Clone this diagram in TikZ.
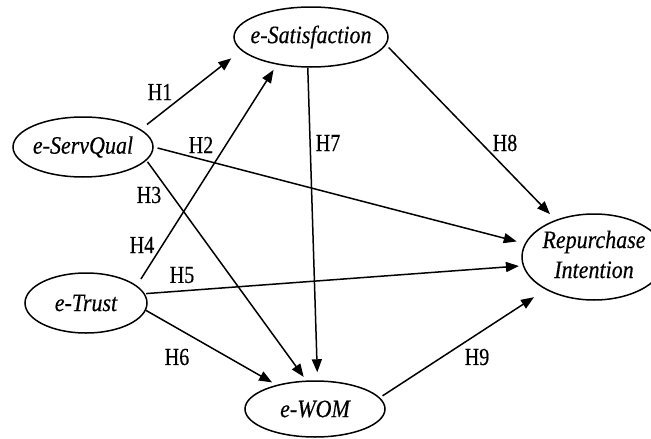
\documentclass[tikz,border=0pt]{standalone}
\usepackage{fontspec}
\setmainfont{Liberation Serif}
\newfontfamily\varfont[FakeStretch=0.88,FakeBold=0.4]{Liberation Serif}
\newfontfamily\hypfont[FakeStretch=0.82,FakeBold=0.4]{Liberation Serif}
\usetikzlibrary{shapes.geometric,arrows.meta}
\begin{document}
\begin{tikzpicture}[x=1pt,y=-1pt,
  var/.style={ellipse,draw,line width=1.5pt,inner sep=0pt,
    font=\varfont\fontsize{25}{30}\selectfont\itshape},
  hyp/.style={font=\hypfont\fontsize{24.5}{28}\selectfont,inner sep=0pt},
  link/.style={line width=1.5pt,-{Triangle[length=13pt,width=10pt]}}]
\useasboundingbox (0,0) rectangle (651,439);
\node[var,minimum width=154pt,minimum height=60pt] (sat) at (311,37) {\makebox[0pt]{e-Satisfaction}};
\node[var,minimum width=140pt,minimum height=60pt] (sq) at (83,147) {\makebox[0pt]{e-ServQual}};
\node[var,minimum width=122pt,minimum height=60pt] (tr) at (86,303) {\makebox[0pt]{e-Trust}};
\node[var,minimum width=140pt,minimum height=56pt] (wom) at (315,409) {\makebox[0pt]{e-WOM}};
\node[var,minimum width=144pt,minimum height=86pt] (rep) at (594,257) {\makebox[0pt]{\begin{tabular}{@{}c@{}}Repurchase\\Intention\end{tabular}}};
\draw[link,shorten <=7.8pt,shorten >=12.6pt] (sq.17.35) -- (sat.191.17);
\draw[link,shorten <=4pt,shorten >=8.3pt] (sq.0) -- (rep.169.7);
\draw[link,shorten <=1.6pt,shorten >=4.4pt] (sq.348.7) -- (wom.107.35);
\draw[link,shorten <=7.7pt,shorten >=6.2pt] (tr.19.33) -- (sat.219.2);
\draw[link,shorten <=1.3pt,shorten >=3.8pt] (tr.9.62) -- (rep.187.7);
\draw[link,shorten >=5pt] (tr.353) -- (wom.148.8);
\draw[link,shorten >=8pt] (sat.264.3) -- (wom.85.2);
\draw[link,shorten <=3.6pt,shorten >=8pt] (sat.354.1) -- (rep.136.3);
\draw[link,shorten <=3.2pt,shorten >=13.8pt] (wom.10.15) -- (rep.214.1);
\node[hyp] (h1) at (160,92) {H1};
\node[hyp] (h2) at (201,145) {H2};
\node[hyp] (h3) at (149,195) {H3};
\node[hyp] (h4) at (142,245) {H4};
\node[hyp] (h5) at (182,275) {H5};
\node[hyp] (h6) at (177,357) {H6};
\node[hyp] (h7) at (328,143) {H7};
\node[hyp] (h8) at (505,143) {H8};
\node[hyp] (h9) at (477,357) {H9};
\end{tikzpicture}
\end{document}
